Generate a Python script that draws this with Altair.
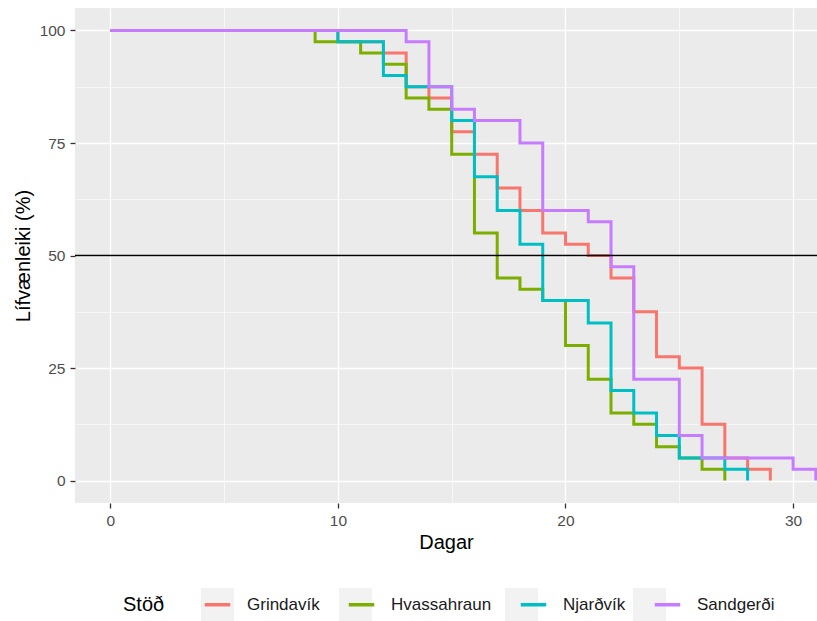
import altair as alt
import pandas as pd

stations = ["Grindavík", "Hvassahraun", "Njarðvík", "Sandgerði"]
colors = ["#F8766D", "#7CAE00", "#00BFC4", "#C77CFF"]
key_bg = ["#F2F2F2", "#F2F2F2", "#F2F2F2", "#F2F2F2"]

grindavik_days = [0, 10, 12, 13, 14, 15, 16, 17, 18, 19, 20, 21, 22, 23, 24, 25, 26, 27, 28, 29]
grindavik_surv = [100, 97.5, 95, 87.5, 85, 77.5, 72.5, 65, 60, 55, 52.5, 50, 45, 37.5, 27.5, 25, 12.5, 5, 2.5, 0]

hvassahraun_days = [0, 9, 11, 12, 13, 14, 15, 16, 17, 18, 19, 20, 21, 22, 23, 24, 25, 26, 27]
hvassahraun_surv = [100, 97.5, 95, 92.5, 85, 82.5, 72.5, 55, 45, 42.5, 40, 30, 22.5, 15, 12.5, 7.5, 5, 2.5, 0]

njardvik_days = [0, 10, 12, 13, 15, 16, 17, 18, 19, 21, 22, 23, 24, 25, 27, 28]
njardvik_surv = [100, 97.5, 90, 87.5, 80, 67.5, 60, 52.5, 40, 35, 20, 15, 10, 5, 2.5, 0]

sandgerdi_days = [0, 13, 14, 15, 16, 18, 19, 21, 22, 23, 25, 26, 30, 31]
sandgerdi_surv = [100, 97.5, 87.5, 82.5, 80, 75, 60, 57.5, 47.5, 22.5, 10, 5, 2.5, 0]

x_ticks = [0, 5, 10, 15, 20, 25, 30]
y_ticks = [0, 12.5, 25, 37.5, 50, 62.5, 75, 87.5, 100]
hline_value = [50]

series = [
    ("Grindavík", grindavik_days, grindavik_surv),
    ("Hvassahraun", hvassahraun_days, hvassahraun_surv),
    ("Njarðvík", njardvik_days, njardvik_surv),
    ("Sandgerði", sandgerdi_days, sandgerdi_surv),
]
rows = []
for name, ds, ss in series:
    for i, (d, s) in enumerate(zip(ds, ss)):
        rows.append({"Stöð": name, "Dagar": d, "surv": s, "order": i})
df = pd.DataFrame(rows)

FONT = "Liberation Sans"
TICK_FS = 15.5
TITLE_FS = 20
LEG_FS = 17

xscale = alt.Scale(domain=[-1.55, 31.05], nice=False, zero=False)
yscale = alt.Scale(domain=[-5, 105], nice=False, zero=False)

major_x = "datum.value % 10 == 0"
major_y = "datum.value % 25 == 0"


def make_axis(major, values, label_pad, title_pad):
    return alt.Axis(
        values=values,
        labelExpr=f"{major} ? datum.label : ''",
        grid=True,
        gridColor="white",
        gridWidth={"condition": {"test": major, "value": 1.3}, "value": 0.6},
        tickOpacity={"condition": {"test": major, "value": 1}, "value": 0},
        domain=False,
        tickColor="#333333",
        tickSize=5,
        tickWidth=1.3,
        labelColor="#4D4D4D",
        labelFontSize=TICK_FS,
        labelPadding=label_pad,
        titleFontSize=TITLE_FS,
        titleFontWeight="normal",
        titleColor="black",
        titlePadding=title_pad,
        labelFlush=False,
    )


xaxis = make_axis(major_x, x_ticks, 5, 4)
yaxis = make_axis(major_y, y_ticks, 5, 6)

LEG_X = 48
LEG_Y = 580
COL_PAD = 21

# Legend key backgrounds (grey squares), drawn first
keys = alt.Chart(df).mark_square(size=0, opacity=0).encode(
    x=alt.X("Dagar:Q", scale=xscale, axis=xaxis, title="Dagar"),
    y=alt.Y("surv:Q", scale=yscale, axis=yaxis, title="Lífvænleiki (%)"),
    fill=alt.Fill(
        "Stöð:N",
        scale=alt.Scale(domain=stations, range=key_bg),
        legend=alt.Legend(
            orient="none",
            direction="horizontal",
            legendX=LEG_X,
            legendY=LEG_Y,
            titleOrient="left",
            title="Stöð",
            titleFontSize=TITLE_FS,
            titleFontWeight="normal",
            titleColor="black",
            titlePadding=36,
            labelFontSize=LEG_FS,
            labelColor="transparent",
            symbolType="square",
            symbolSize=1089,
            symbolStrokeWidth=0,
            symbolOpacity=1,
            symbolFillColor="#F2F2F2",
            labelOffset=11,
            columnPadding=COL_PAD,
        ),
    ),
)

lines = alt.Chart(df).mark_line(interpolate="step-after", strokeWidth=3, clip=True).encode(
    x=alt.X("Dagar:Q", scale=xscale, axis=xaxis, title="Dagar"),
    y=alt.Y("surv:Q", scale=yscale, axis=yaxis, title="Lífvænleiki (%)"),
    color=alt.Color(
        "Stöð:N",
        scale=alt.Scale(domain=stations, range=colors),
        legend=alt.Legend(
            orient="none",
            direction="horizontal",
            legendX=LEG_X,
            legendY=LEG_Y + 2,
            titleOrient="left",
            title="Stöð",
            titleFontSize=TITLE_FS,
            titleFontWeight="normal",
            titleColor="transparent",
            titlePadding=36,
            labelFontSize=LEG_FS,
            labelColor="#1A1A1A",
            symbolType="stroke",
            symbolStrokeWidth=3.5,
            symbolSize=650,
            symbolOffset=2,
            labelOffset=15,
            columnPadding=COL_PAD,
        ),
    ),
    detail="Stöð:N",
    order="order:Q",
)

hline = alt.Chart(pd.DataFrame({"y": hline_value})).mark_rule(color="black", strokeWidth=1.4).encode(
    y=alt.Y("y:Q", scale=yscale)
)

chart = (
    alt.layer(keys, lines, hline)
    .resolve_scale(color="independent", fill="independent")
    .properties(
        width=742,
        height=495,
        autosize=alt.AutoSizeParams(type="none"),
        padding={"left": 75, "top": 8, "right": 0, "bottom": 118},
        background="white",
    )
    .configure(font=FONT)
    .configure_view(fill="#EBEBEB", strokeWidth=0)
)

chart.save("out.html", embed_options={"renderer": "svg", "actions": False})
